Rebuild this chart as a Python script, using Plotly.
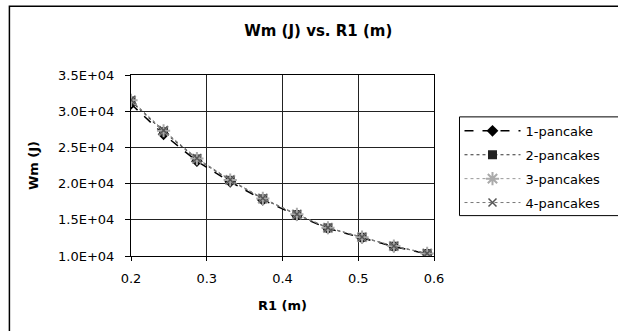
import plotly.graph_objects as go

r1 = [0.2, 0.243, 0.287, 0.331, 0.374, 0.419, 0.460, 0.505, 0.547, 0.591]
wm_1 = [31000, 26800, 23100, 20250, 17750, 15600, 13800, 12500, 11300, 10300]
wm_2 = [31400, 27200, 23400, 20450, 17900, 15720, 13880, 12590, 11350, 10340]
wm_3 = [31500, 27300, 23450, 20500, 17950, 15750, 13900, 12600, 11370, 10350]
wm_4 = [31550, 27350, 23500, 20520, 17970, 15770, 13920, 12620, 11380, 10360]
series_names = ["1-pancake", "2-pancakes", "3-pancakes", "4-pancakes"]
y_ticks = [10000, 15000, 20000, 25000, 30000, 35000]
y_tick_labels = [f"{v:.1E}" for v in y_ticks]
x_ticks = [0.2, 0.3, 0.4, 0.5, 0.6]

FONT = "DejaVu Sans"

fig = go.Figure()
fig.add_trace(go.Scatter(
    x=r1, y=wm_1, name=series_names[0], mode="lines+markers", legendgroup="a",
    line=dict(color="black", width=1.5, dash="dash"),
    marker=dict(symbol="diamond", size=9, color="black")))
fig.add_trace(go.Scatter(
    x=r1, y=wm_2, name=series_names[1], mode="lines+markers", legendgroup="b",
    line=dict(color="#333333", width=1.2, dash="dot"),
    marker=dict(symbol="square", size=9, color="#222222")))
fig.add_trace(go.Scatter(
    x=r1, y=wm_3, name=series_names[2], mode="lines+markers", legendgroup="c",
    line=dict(color="#999999", width=1, dash="dot"),
    marker=dict(symbol="asterisk-open", size=11, color="#aaaaaa", line=dict(width=2, color="#b0b0b0"))))
fig.add_trace(go.Scatter(
    x=r1, y=wm_4, name=series_names[3], mode="lines+markers", legendgroup="d",
    line=dict(color="#777777", width=1, dash="dot"),
    marker=dict(symbol="x-thin-open", size=8, color="#555555", line=dict(width=1.5, color="#555555"))))

PW, PH = 309, 181.5
def px_x(p):
    return (p - 131) / PW
def px_y(p):
    return (256.5 - p) / PH

fig.update_layout(
    width=618, height=331,
    margin=dict(l=131, r=178, t=75, b=75),
    paper_bgcolor="white", plot_bgcolor="white",
    font=dict(family=FONT, color="black", size=13),
    title=dict(text="<b>Wm (J) vs. R1 (m)</b>", x=0.515, xanchor="center",
               y=1 - 31 / 331, yanchor="middle", font=dict(family=FONT, size=15, color="black")),
    xaxis=dict(range=[0.2, 0.6], tickvals=x_ticks, ticktext=[f"{v:.1f}" for v in x_ticks],
               showgrid=True, gridcolor="#222222", gridwidth=1,
               showline=True, linecolor="black", linewidth=1, mirror=True,
               ticks="outside", ticklen=4, tickcolor="black", zeroline=False,
               ticklabelstandoff=6,
               title=dict(text="<b>R1 (m)</b>", standoff=16, font=dict(family=FONT, size=13))),
    yaxis=dict(range=[10000, 35000], tickvals=y_ticks, ticktext=y_tick_labels,
               showgrid=True, gridcolor="#222222", gridwidth=1,
               showline=True, linecolor="black", linewidth=1, mirror=True,
               ticks="outside", ticklen=5, tickcolor="black", zeroline=False,
               ticklabelstandoff=8,
               title=dict(text="<b>Wm (J)</b>", standoff=16, font=dict(family=FONT, size=13))),
    legend=dict(x=px_x(466), xanchor="left", y=px_y(116), yanchor="top",
                borderwidth=0, bgcolor="rgba(0,0,0,0)",
                font=dict(family=FONT, size=13), itemwidth=56, tracegroupgap=4),
    showlegend=True,
)

# outer chart frame
fig.add_shape(type="rect", xref="paper", yref="paper",
              x0=px_x(7), x1=1.7, y0=-0.6, y1=px_y(6),
              line=dict(color="black", width=1.5), fillcolor="rgba(0,0,0,0)", layer="below")
# legend box (extends past right edge as in the original)
fig.add_shape(type="rect", xref="paper", yref="paper",
              x0=px_x(466), x1=px_x(640), y0=px_y(216), y1=px_y(117),
              line=dict(color="black", width=1), fillcolor="white", layer="below")

fig.write_html("out.html")
